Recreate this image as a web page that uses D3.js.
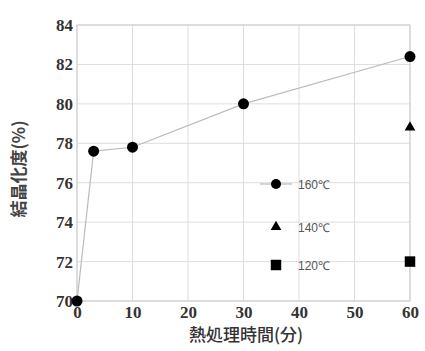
<!DOCTYPE html>
<html>
<head>
<meta charset="utf-8">
<script src="https://cdn.jsdelivr.net/npm/d3@7"></script>
<style>
  body { margin: 0; background: #fff; }
</style>
</head>
<body>
<div id="chart"></div>
<script>
// heat treatment time (min) vs crystallinity (%)
var times160 = [0, 3, 10, 30, 60];
var cryst160 = [70.0, 77.6, 77.8, 80.0, 82.4];
var times140 = [60];
var cryst140 = [78.8];
var times120 = [60];
var cryst120 = [72.0];
var xTicks = [0, 10, 20, 30, 40, 50, 60];
var yTicks = [70, 72, 74, 76, 78, 80, 82, 84];
var legendLabels = ["160\u2103", "140\u2103", "120\u2103"];

var width = 425, height = 351;
var margin = {top: 25, right: 15, bottom: 50, left: 77};
var tickFont = "Liberation Serif";

var svg = d3.select("#chart").append("svg")
    .attr("width", width)
    .attr("height", height);

var x = d3.scaleLinear().domain([0, 60]).range([margin.left, width - margin.right]);
var y = d3.scaleLinear().domain([70, 84]).range([height - margin.bottom, margin.top]);

// grid
svg.append("g").selectAll("line.gx").data(xTicks).enter().append("line")
    .attr("x1", function(d) { return x(d); }).attr("x2", function(d) { return x(d); })
    .attr("y1", y(70)).attr("y2", y(84))
    .attr("stroke", "#ddd").attr("stroke-width", 1);
svg.append("g").selectAll("line.gy").data(yTicks).enter().append("line")
    .attr("x1", x(0)).attr("x2", x(60))
    .attr("y1", function(d) { return y(d); }).attr("y2", function(d) { return y(d); })
    .attr("stroke", "#ddd").attr("stroke-width", 1);
svg.append("rect")
    .attr("x", x(0)).attr("y", y(84))
    .attr("width", x(60) - x(0)).attr("height", y(70) - y(84))
    .attr("fill", "none").attr("stroke", "#ccc");

// axes (labels only)
var xAxis = svg.append("g")
    .attr("transform", "translate(0," + y(70) + ")")
    .call(d3.axisBottom(x).tickValues(xTicks).tickSize(0).tickPadding(5));
xAxis.attr("font-family", tickFont).attr("font-size", 17).attr("font-weight", "bold");
xAxis.select(".domain").remove();
xAxis.selectAll("text").attr("fill", "#333");

var yAxis = svg.append("g")
    .attr("transform", "translate(" + x(0) + ",0)")
    .call(d3.axisLeft(y).tickValues(yTicks).tickSize(0).tickPadding(4));
yAxis.attr("font-family", tickFont).attr("font-size", 17).attr("font-weight", "bold");
yAxis.select(".domain").remove();
yAxis.selectAll("text").attr("fill", "#333");

// axis titles
svg.append("text")
    .attr("x", 246).attr("y", 341)
    .attr("text-anchor", "middle")
    .attr("font-family", "Noto Sans CJK JP")
    .attr("font-size", 17).attr("font-weight", 500).attr("fill", "#333")
    .text("熱処理時間(分)");
svg.append("text")
    .attr("transform", "translate(25," + ((y(70) + y(84)) / 2 + 6) + ") rotate(-90)")
    .attr("text-anchor", "middle")
    .attr("font-family", "Noto Sans CJK JP")
    .attr("font-size", 17).attr("font-weight", "bold").attr("fill", "#444")
    .text("結晶化度(%)");

// 160 series line + markers
var line = d3.line()
    .x(function(d) { return x(d[0]); })
    .y(function(d) { return y(d[1]); });
var pts160 = d3.zip(times160, cryst160);
svg.append("path").datum(pts160)
    .attr("d", line).attr("fill", "none")
    .attr("stroke", "#bbb").attr("stroke-width", 1.2);
svg.append("g").selectAll("circle").data(pts160).enter().append("circle")
    .attr("cx", function(d) { return x(d[0]); })
    .attr("cy", function(d) { return y(d[1]); })
    .attr("r", 5.5).attr("fill", "#000");

var tri = d3.symbol().type(d3.symbolTriangle).size(50);
var sq = d3.symbol().type(d3.symbolSquare).size(110);

svg.append("g").selectAll("path").data(d3.zip(times140, cryst140)).enter().append("path")
    .attr("d", tri)
    .attr("transform", function(d) { return "translate(" + x(d[0]) + "," + y(d[1]) + ")"; })
    .attr("fill", "#000");
svg.append("g").selectAll("path").data(d3.zip(times120, cryst120)).enter().append("path")
    .attr("d", sq)
    .attr("transform", function(d) { return "translate(" + x(d[0]) + "," + y(d[1]) + ")"; })
    .attr("fill", "#000");

// legend
var legend = svg.append("g").attr("transform", "translate(276,0)");
var legendY = [184, 227, 265];
legend.append("line")
    .attr("x1", -16).attr("x2", 16).attr("y1", legendY[0]).attr("y2", legendY[0])
    .attr("stroke", "#bbb").attr("stroke-width", 1.2);
legend.append("circle").attr("cx", 0).attr("cy", legendY[0]).attr("r", 5).attr("fill", "#000");
legend.append("path").attr("d", tri).attr("transform", "translate(0," + legendY[1] + ")").attr("fill", "#000");
legend.append("path").attr("d", sq).attr("transform", "translate(0," + legendY[2] + ")").attr("fill", "#000");
legend.selectAll("text").data(legendLabels).enter().append("text")
    .attr("x", 22).attr("y", function(d, i) { return legendY[i] + 4.5; })
    .attr("font-family", "Liberation Sans")
    .attr("font-size", 12).attr("fill", "#555")
    .text(function(d) { return d; });
</script>
</body>
</html>
